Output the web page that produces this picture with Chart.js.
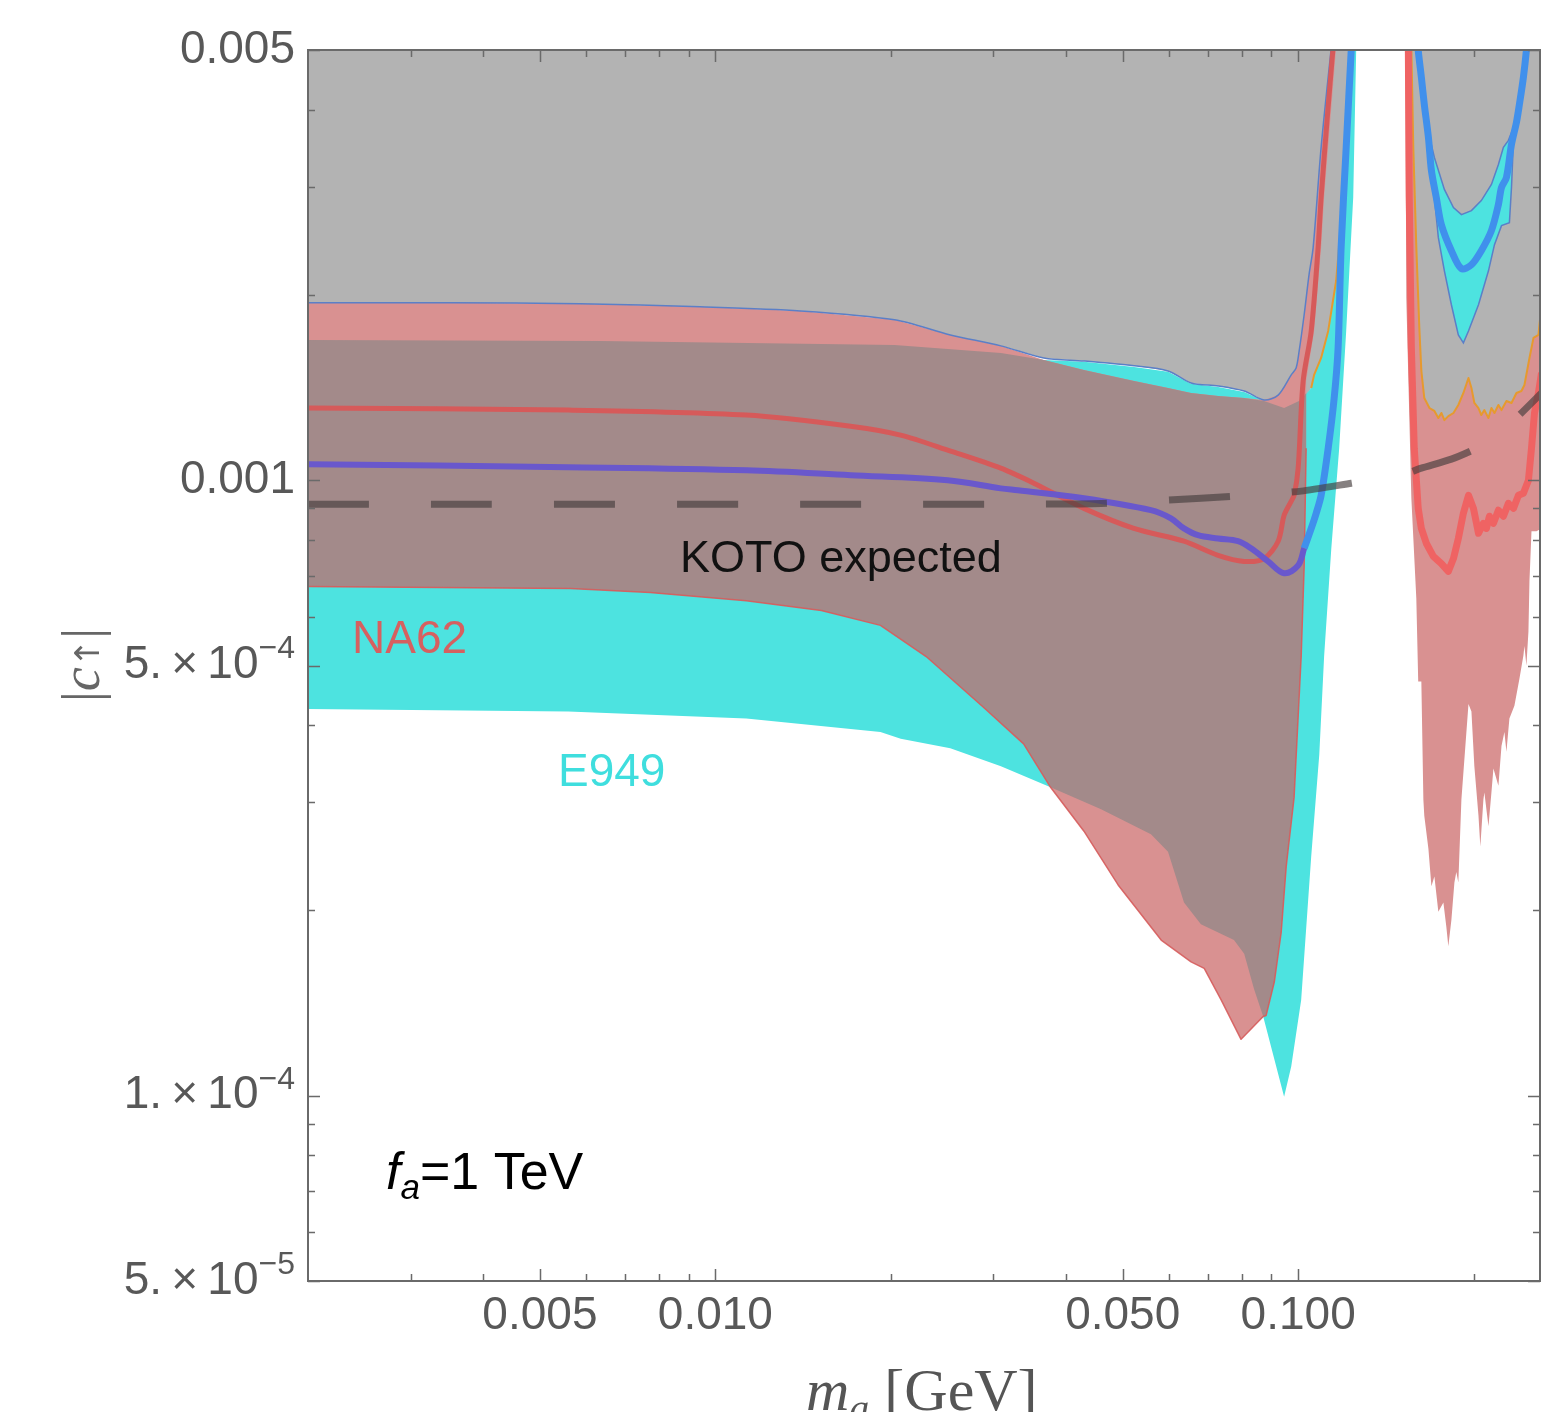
<!DOCTYPE html>
<html>
<head>
<meta charset="utf-8">
<script src="https://cdn.jsdelivr.net/npm/chart.js@4.4.0/dist/chart.umd.min.js"></script>
<style>
  html, body { margin: 0; padding: 0; background: #fff; }
  #wrap { width: 1560px; height: 1412px; }
</style>
</head>
<body>
<div id="wrap"><canvas id="chart"></canvas></div>
<script>
// axis ranges (m_a in GeV, |c| coupling)
const X_MIN = 0.002, X_MAX = 0.26;
const Y_MIN = 5e-5, Y_MAX = 5e-3;

// frame ticks and labels
const xMajor = [0.005, 0.01, 0.05, 0.1];
const xMinor = [0.003, 0.004, 0.006, 0.007, 0.008, 0.009, 0.02, 0.03, 0.04, 0.06, 0.07, 0.08, 0.09, 0.2];
const xLabels = ['0.005', '0.010', '0.050', '0.100'];
const yMajor = [0.005, 0.001, 5e-4, 1e-4, 5e-5];
const yMinor = [0.004, 0.003, 0.002, 9e-4, 8e-4, 7e-4, 6e-4, 4e-4, 3e-4, 2e-4, 9e-5, 8e-5, 7e-5, 6e-5];
const yLabelBase = ['0.005', '0.001', '5.\u2009×\u200910', '1.\u2009×\u200910', '5.\u2009×\u200910'];
const yLabelExp = ['', '', '−4', '−4', '−5'];

// gray excluded region (left of the K->pi pi gap)
const orangeLeft = [[0.1053,1.412e-3],[0.1065,1.483e-3],[0.1095,1.580e-3],[0.1126,1.748e-3],[0.1162,2.109e-3],
  [0.1195,2.879e-3],[0.1219,3.701e-3],[0.1234,5.015e-3],[0.1238,5.3e-3]];
const grayLeftLower = [[0.1012,1.335e-3],[0.0946,1.30e-3],[0.0874,1.35e-3],[0.0808,1.396e-3],[0.0729,1.423e-3],
  [0.0655,1.439e-3],[0.0598,1.505e-3],[0.0523,1.534e-3],[0.0429,1.562e-3],[0.0366,1.58e-3],[0.0309,1.653e-3],
  [0.0253,1.722e-3],[0.0203,1.822e-3],[0.0140,1.884e-3],[0.00942,1.913e-3],[0.00586,1.935e-3],[0.00351,1.942e-3],[0.00194,1.942e-3]];
const grayOutline = [[0.002,1.942e-3],[0.00351,1.942e-3],[0.00586,1.935e-3],[0.00942,1.913e-3],[0.0140,1.884e-3],
  [0.0203,1.822e-3],[0.0253,1.722e-3],[0.0309,1.653e-3],[0.0366,1.58e-3],[0.0429,1.562e-3],[0.0523,1.534e-3],
  [0.0598,1.505e-3],[0.0655,1.439e-3],[0.0729,1.423e-3],[0.0808,1.396e-3],[0.0874,1.35e-3],[0.0924,1.375e-3],
  [0.0973,1.483e-3],[0.0992,1.522e-3],[0.1004,1.622e-3],[0.1024,1.857e-3],[0.1044,2.158e-3],[0.1061,2.387e-3],
  [0.1095,3.473e-3],[0.1140,5.05e-3],[0.1148,5.3e-3]];

// E949 (cyan)
const e949Top = [[0.00194,1.690e-3],[0.00634,1.684e-3],[0.0203,1.659e-3],[0.0309,1.610e-3],[0.0366,1.568e-3],
  [0.0429,1.557e-3],[0.0523,1.528e-3],[0.0598,1.500e-3],[0.0655,1.434e-3],[0.0729,1.417e-3],[0.0808,1.391e-3],
  [0.0874,1.345e-3],[0.0946,1.310e-3],[0.1012,1.350e-3]];
const e949RightEdge = [[0.1263,5.3e-3],[0.1258,5.05e-3],[0.1243,2.879e-3],[0.1209,1.748e-3],[0.1176,1.127e-3],
  [0.1140,7.75e-4],[0.1108,5.17e-4],[0.1087,3.58e-4],[0.1053,2.45e-4],[0.1012,1.43e-4],[0.0973,1.115e-4],[0.0946,9.96e-5]];
const e949Lower = [[0.0871,1.345e-4],[0.0840,1.49e-4],[0.0808,1.70e-4],[0.0776,1.79e-4],[0.0681,1.90e-4],
  [0.0637,2.06e-4],[0.0598,2.49e-4],[0.0559,2.66e-4],[0.0459,2.92e-4],[0.0376,3.17e-4],[0.0309,3.43e-4],
  [0.0253,3.67e-4],[0.0208,3.80e-4],[0.0192,3.90e-4],[0.0113,4.10e-4],[0.00559,4.21e-4],[0.00194,4.25e-4]];

// NA62 (pink)
const na62Upper = [[0.00194,1.942e-3],[0.00351,1.942e-3],[0.00586,1.935e-3],[0.00942,1.913e-3],[0.0140,1.884e-3],
  [0.0203,1.822e-3],[0.0253,1.722e-3],[0.0309,1.653e-3],[0.0366,1.568e-3],[0.0429,1.511e-3],[0.0523,1.450e-3],
  [0.0598,1.412e-3],[0.0655,1.386e-3],[0.0729,1.370e-3],[0.0808,1.360e-3],[0.0874,1.350e-3],[0.0924,1.375e-3],
  [0.0973,1.483e-3],[0.0992,1.522e-3],[0.1004,1.622e-3],[0.1024,1.857e-3],[0.1044,2.158e-3],[0.1061,2.387e-3],
  [0.1095,3.473e-3],[0.1140,5.05e-3],[0.1144,5.3e-3]];
const na62RightEdge = [[0.1167,5.3e-3],[0.1162,5.05e-3],[0.1108,2.879e-3],[0.1095,2.387e-3],[0.1065,1.748e-3],[0.1032,1.450e-3]];
const na62Lower = [[0.1032,1.127e-3],[0.1024,7.24e-4],[0.1012,5.17e-4],[0.0984,3.05e-4],[0.0954,2.36e-4],
  [0.0935,1.84e-4],[0.0910,1.53e-4],[0.0881,1.35e-4],[0.0871,1.345e-4],[0.0798,1.235e-4],[0.0738,1.43e-4],
  [0.0690,1.61e-4],[0.0655,1.65e-4],[0.0582,1.79e-4],[0.0491,2.20e-4],[0.0429,2.69e-4],[0.0376,3.17e-4],
  [0.0338,3.73e-4],[0.0289,4.27e-4],[0.0230,5.17e-4],[0.0192,5.81e-4],[0.0152,6.14e-4],[0.0113,6.37e-4],
  [0.00773,6.57e-4],[0.00564,6.67e-4],[0.00194,6.72e-4]];

// overlap of NA62 and E949
const overlap = [[0.00194,1.690e-3],[0.00634,1.684e-3],[0.0203,1.659e-3],[0.0309,1.610e-3],[0.0366,1.568e-3],
  [0.0429,1.511e-3],[0.0523,1.450e-3],[0.0598,1.412e-3],[0.0655,1.386e-3],[0.0729,1.370e-3],[0.0808,1.360e-3],
  [0.0874,1.345e-3],[0.0946,1.310e-3],[0.1012,1.350e-3],[0.1032,1.386e-3],
  [0.1032,1.127e-3],[0.1024,7.24e-4],[0.1012,5.17e-4],[0.0984,3.05e-4],[0.0954,2.36e-4],[0.0935,1.84e-4],
  [0.0910,1.53e-4],[0.0881,1.35e-4],[0.0871,1.345e-4],[0.0840,1.49e-4],[0.0808,1.70e-4],[0.0776,1.79e-4],
  [0.0681,1.90e-4],[0.0637,2.06e-4],[0.0598,2.49e-4],[0.0559,2.66e-4],[0.0459,2.92e-4],[0.0376,3.17e-4],
  [0.0338,3.73e-4],[0.0289,4.27e-4],[0.0230,5.17e-4],[0.0192,5.81e-4],[0.0152,6.14e-4],[0.0113,6.37e-4],
  [0.00773,6.57e-4],[0.00564,6.67e-4],[0.00194,6.72e-4]];

// right of the gap
const orangeRight = [[0.1564,5.3e-3],[0.1564,5.05e-3],[0.1576,3.47e-3],[0.1595,2.39e-3],[0.1614,1.77e-3],[0.1627,1.505e-3],
  [0.1646,1.36e-3],[0.1680,1.31e-3],[0.1713,1.296e-3],[0.1740,1.262e-3],[0.1761,1.286e-3],[0.1782,1.252e-3],
  [0.1810,1.271e-3],[0.1847,1.286e-3],[0.1883,1.325e-3],[0.1921,1.386e-3],[0.1960,1.466e-3],[0.1983,1.412e-3],
  [0.2006,1.335e-3],[0.2039,1.310e-3],[0.2062,1.276e-3],[0.2087,1.300e-3],[0.2121,1.262e-3],[0.2146,1.310e-3],
  [0.2172,1.286e-3],[0.2206,1.325e-3],[0.2233,1.300e-3],[0.2277,1.345e-3],[0.2323,1.335e-3],[0.2369,1.386e-3],
  [0.2416,1.396e-3],[0.2445,1.428e-3],[0.2494,1.580e-3],[0.2534,1.703e-3],[0.2584,1.722e-3],[0.2616,1.928e-3],[0.2668,1.928e-3]];
const na62RightLower = [[0.2668,8.45e-4],[0.2564,8.26e-4],[0.2514,8.26e-4],[0.2494,6.85e-4],[0.2484,5.68e-4],
  [0.2464,5.00e-4],[0.2445,5.38e-4],[0.2435,5.19e-4],[0.2397,4.76e-4],[0.2350,4.30e-4],[0.2304,4.10e-4],
  [0.2277,3.62e-4],[0.2259,3.90e-4],[0.2233,3.70e-4],[0.2206,3.19e-4],[0.2163,3.40e-4],[0.2146,3.11e-4],
  [0.2121,2.74e-4],[0.2087,3.11e-4],[0.2079,3.03e-4],[0.2054,2.54e-4],[0.2039,2.85e-4],[0.2006,3.43e-4],
  [0.1983,4.21e-4],[0.1960,4.33e-4],[0.1944,3.90e-4],[0.1906,3.03e-4],[0.1883,2.22e-4],[0.1868,2.31e-4],
  [0.1854,2.22e-4],[0.1832,1.93e-4],[0.1810,1.75e-4],[0.1796,1.88e-4],[0.1775,2.06e-4],[0.1740,1.99e-4],
  [0.1713,2.27e-4],[0.1693,2.19e-4],[0.1673,2.52e-4],[0.1646,2.85e-4],[0.1640,3.03e-4],[0.1627,4.71e-4],
  [0.1607,4.71e-4],[0.1595,6.42e-4],[0.1564,9.35e-4],[0.1533,1.979e-3],[0.1527,5.3e-3]];
const e949U = [[0.1646,3.960e-3],[0.1673,3.473e-3],[0.1706,2.990e-3],[0.1740,2.478e-3],[0.1782,2.189e-3],
  [0.1832,1.928e-3],[0.1883,1.722e-3],[0.1921,1.672e-3],[0.1960,1.748e-3],[0.2039,1.928e-3],[0.2121,2.189e-3],
  [0.2172,2.414e-3],[0.2233,2.592e-3],[0.2304,2.621e-3],[0.2323,2.990e-3],[0.2341,3.566e-3],[0.2360,3.814e-3],
  [0.2295,3.566e-3],[0.2250,3.473e-3],[0.2206,3.258e-3],[0.2146,3.024e-3],[0.2062,2.847e-3],[0.1983,2.742e-3],
  [0.1906,2.701e-3],[0.1847,2.773e-3],[0.1782,2.968e-3],[0.1713,3.345e-3],[0.1673,3.673e-3],[0.1653,3.960e-3]];

// central curves
const redLeft = [[0.00200,1.310e-3],[0.00559,1.300e-3],[0.01131,1.276e-3],[0.01706,1.224e-3],[0.02079,1.184e-3],
  [0.02533,1.115e-3],[0.03088,1.046e-3],[0.03519,9.89e-4],[0.04289,9.00e-4],[0.05225,8.35e-4],[0.06369,7.96e-4],
  [0.07288,7.55e-4],[0.08076,7.38e-4],[0.08741,7.46e-4],[0.0924,7.96e-4],[0.09461,8.77e-4],[0.09727,9.24e-4],
  [0.09842,9.45e-4],[0.1000,1.046e-3],[0.1020,1.450e-3],[0.1053,1.748e-3],[0.1082,2.387e-3],[0.1095,2.879e-3],
  [0.1122,3.886e-3],[0.1148,5.05e-3],[0.1153,5.3e-3]];
const redRight = [[0.1545,5.3e-3],[0.1551,2.88e-3],[0.1564,1.64e-3],[0.1582,1.127e-3],[0.1607,9.00e-4],
  [0.1627,8.35e-4],[0.1659,7.90e-4],[0.1706,7.52e-4],[0.1761,7.32e-4],[0.1810,7.11e-4],[0.1847,7.46e-4],
  [0.1883,8.04e-4],[0.1921,8.84e-4],[0.1960,9.45e-4],[0.1999,9.00e-4],[0.2039,8.20e-4],[0.2079,8.51e-4],
  [0.2104,8.35e-4],[0.2129,8.74e-4],[0.2163,8.51e-4],[0.2206,8.94e-4],[0.2250,8.74e-4],[0.2295,9.17e-4],
  [0.2341,9.00e-4],[0.2388,9.45e-4],[0.2435,9.52e-4],[0.2484,1.000e-3],[0.2514,1.127e-3],[0.2544,1.286e-3],
  [0.2584,1.386e-3],[0.2616,1.494e-3]];
const purpleLine = [[0.00200,1.062e-3],[0.00559,1.050e-3],[0.01131,1.038e-3],[0.01706,1.019e-3],[0.02503,1.000e-3],
  [0.03088,9.70e-4],[0.03303,9.63e-4],[0.04289,9.35e-4],[0.05589,8.94e-4],[0.0605,8.67e-4],[0.06369,8.35e-4],
  [0.06732,8.14e-4],[0.07288,8.04e-4],[0.07886,7.96e-4],[0.08302,7.75e-4],[0.08881,7.38e-4],[0.09461,7.06e-4],
  [0.1000,7.27e-4],[0.1024,7.75e-4]];
const blueLeft = [[0.1024,7.75e-4],[0.1053,8.35e-4],[0.1074,8.84e-4],[0.1095,9.45e-4],[0.1126,1.127e-3],
  [0.1153,1.360e-3],[0.1171,1.641e-3],[0.1185,2.387e-3],[0.1209,3.473e-3],[0.1234,5.05e-3],[0.1238,5.3e-3]];
const blueU = [[0.1601,5.3e-3],[0.1607,4.996e-3],[0.1627,4.516e-3],[0.1646,4.081e-3],[0.1673,3.606e-3],
  [0.1693,3.186e-3],[0.1726,2.879e-3],[0.1761,2.601e-3],[0.1832,2.360e-3],[0.1906,2.206e-3],[0.1983,2.239e-3],
  [0.2062,2.360e-3],[0.2146,2.544e-3],[0.2206,2.804e-3],[0.2233,2.990e-3],[0.2277,3.104e-3],[0.2323,3.512e-3],
  [0.2369,3.814e-3],[0.2397,4.081e-3],[0.2435,4.516e-3],[0.2464,4.996e-3],[0.2475,5.3e-3]];
const kotoExpected = [[0.00200,9.14e-4],[0.0309,9.14e-4],[0.0459,9.17e-4],[0.0681,9.35e-4],[0.0830,9.45e-4],
  [0.1012,9.60e-4],[0.1234,9.89e-4],[0.1503,1.019e-3],[0.1627,1.046e-3],[0.1832,1.082e-3],[0.2022,1.127e-3],
  [0.2233,1.202e-3],[0.2416,1.286e-3],[0.2616,1.386e-3]];

// colours
const GRAY = '#b3b3b3', PINK = '#d99191', BROWN = '#a38a8a', CYAN = '#4de3e0';

function toPts(arr) {
  return arr.map(([m, c]) => ({x: m, y: c}));
}

function region(points, color, order, edge) {
  return {
    data: toPts(points), fill: 'shape', backgroundColor: color,
    borderColor: edge ? edge : 'rgba(0,0,0,0)', borderWidth: edge ? 1.5 : 0,
    pointRadius: 0, order: order, clip: 0
  };
}

function curve(points, color, width, order, dash, tension) {
  return {
    data: toPts(points), fill: false, borderColor: color, borderWidth: width,
    borderDash: dash || [], borderCapStyle: 'butt', borderJoinStyle: 'round',
    tension: tension || 0, pointRadius: 0, order: order, clip: 0
  };
}

const grayLeft = [[0.00194,5.3e-3],[0.1263,5.3e-3]].concat(orangeLeft.slice().reverse(), grayLeftLower);
const grayRight = [[0.1564,5.3e-3],[0.2668,5.3e-3]].concat(orangeRight.slice().reverse());
const e949Left = e949Top.concat(orangeLeft, e949RightEdge, e949Lower);
const na62Left = na62Upper.concat(na62RightEdge, na62Lower);
const na62Right = [[0.1527,5.3e-3]].concat(orangeRight, na62RightLower);
const na62Edge = na62Lower.slice().reverse();

const datasets = [
  region(grayLeft, GRAY, 30),
  region(grayRight, GRAY, 29),
  region(e949Left, CYAN, 28),
  region(na62Right, PINK, 27),
  region(e949U, CYAN, 26, '#5b7fc7'),
  region(na62Left, PINK, 25),
  region(overlap, BROWN, 24),
  curve(na62Edge, 'rgba(214,92,92,0.9)', 1.5, 23),
  curve(grayOutline, '#5b7fc7', 1.5, 22, null, 0.3),
  curve(orangeLeft, '#e69a2e', 2, 21),
  curve(orangeRight.slice(1, -1), '#e69a2e', 2, 21),
  curve(redLeft, '#d65a5a', 5, 20, null, 0.3),
  curve(redRight, '#ef6363', 7, 20),
  curve(purpleLine, '#6958cc', 6, 19, null, 0.35),
  curve(blueLeft, '#4090ec', 7, 19, null, 0.3),
  curve(blueU, '#4090ec', 7, 19, null, 0.3),
  curve(kotoExpected, 'rgba(70,62,62,0.66)', 7, 18, [61, 62], 0.2)
];

// frame, inward ticks, tick labels and text annotations
const overlay = {
  id: 'overlay',
  afterDraw(chart) {
    const {ctx, chartArea: a, scales: {x, y}} = chart;
    ctx.save();
    ctx.strokeStyle = '#6a6a6a';
    ctx.lineWidth = 2;
    ctx.strokeRect(a.left, a.top, a.right - a.left, a.bottom - a.top);

    ctx.lineWidth = 1.5;
    ctx.beginPath();
    const xTick = (v, len) => {
      const p = Math.round(x.getPixelForValue(v)) + 0.5;
      ctx.moveTo(p, a.bottom); ctx.lineTo(p, a.bottom - len);
      ctx.moveTo(p, a.top); ctx.lineTo(p, a.top + len);
    };
    const yTick = (v, len) => {
      const p = Math.round(y.getPixelForValue(v)) + 0.5;
      ctx.moveTo(a.left, p); ctx.lineTo(a.left + len, p);
      ctx.moveTo(a.right, p); ctx.lineTo(a.right - len, p);
    };
    xMajor.forEach(v => xTick(v, 12));
    xMinor.forEach(v => xTick(v, 7));
    yMajor.forEach(v => yTick(v, 12));
    yMinor.forEach(v => yTick(v, 7));
    ctx.stroke();

    const SANS = '"Liberation Sans", Arial, sans-serif';
    const SERIF = '"Liberation Serif", "Times New Roman", serif';
    ctx.fillStyle = '#585858';
    ctx.textBaseline = 'middle';

    // x tick labels
    ctx.font = '46px ' + SANS;
    ctx.textAlign = 'center';
    xMajor.forEach((v, i) => ctx.fillText(xLabels[i], x.getPixelForValue(v), 1316));

    // y tick labels with superscript exponents
    ctx.textAlign = 'left';
    yMajor.forEach((v, i) => {
      const py = y.getPixelForValue(v);
      ctx.font = '46px ' + SANS;
      const wb = ctx.measureText(yLabelBase[i]).width;
      ctx.font = '32px ' + SANS;
      const we = yLabelExp[i] ? ctx.measureText(yLabelExp[i]).width : 0;
      const x0 = a.left - 13 - wb - we;
      ctx.font = '46px ' + SANS;
      ctx.fillText(yLabelBase[i], x0, py);
      if (yLabelExp[i]) {
        ctx.font = '32px ' + SANS;
        ctx.fillText(yLabelExp[i], x0 + wb, py - 16);
      }
    });

    // x axis title: m_a [GeV]
    ctx.textBaseline = 'alphabetic';
    ctx.fillStyle = '#555';
    let tx = 806;
    ctx.font = 'italic 60px ' + SERIF;
    ctx.fillText('m', tx, 1410);
    tx += ctx.measureText('m').width;
    ctx.font = 'italic 40px ' + SERIF;
    ctx.fillText('a', tx, 1422);
    tx += ctx.measureText('a').width;
    ctx.font = '60px ' + SERIF;
    ctx.fillText(' [GeV]', tx, 1410);

    // y axis title: |c↑| rotated
    ctx.save();
    ctx.translate(99, 665);
    ctx.rotate(-Math.PI / 2);
    ctx.fillStyle = '#666';
    const parts = [['|', '54px ' + SERIF], ['c', 'italic 54px ' + SERIF], ['↑', '34px "DejaVu Sans", sans-serif'], ['|', '54px ' + SERIF]];
    let total = 0;
    parts.forEach(([t, f]) => { ctx.font = f; total += ctx.measureText(t).width; });
    let ox = -total / 2;
    parts.forEach(([t, f]) => {
      ctx.font = f;
      ctx.fillText(t, ox, 0);
      ox += ctx.measureText(t).width;
    });
    ctx.restore();

    // annotations
    ctx.font = '45px ' + SANS;
    ctx.fillStyle = '#111';
    ctx.fillText('KOTO expected', 680, 572);
    ctx.font = '46px ' + SANS;
    ctx.fillStyle = '#d66060';
    ctx.fillText('NA62', 352, 653);
    ctx.fillStyle = '#3fdede';
    ctx.fillText('E949', 558, 786);

    ctx.fillStyle = '#000';
    let fx = 386;
    ctx.font = 'italic 52px ' + SANS;
    ctx.fillText('f', fx, 1189);
    fx += ctx.measureText('f').width;
    ctx.font = 'italic 35px ' + SANS;
    ctx.fillText('a', fx, 1199);
    fx += ctx.measureText('a').width;
    ctx.font = '52px ' + SANS;
    ctx.fillText('=1 TeV', fx, 1189);
    ctx.restore();
  }
};

new Chart(document.getElementById('chart'), {
  type: 'line',
  data: { datasets: datasets },
  options: {
    responsive: true,
    maintainAspectRatio: false,
    animation: false,
    layout: { padding: { top: 50, right: 20, left: 0, bottom: 0 } },
    plugins: { legend: { display: false }, tooltip: { enabled: false } },
    elements: { point: { radius: 0 } },
    scales: {
      x: {
        type: 'logarithmic', min: X_MIN, max: X_MAX,
        grid: { display: false }, border: { display: false }, ticks: { display: false },
        afterFit(s) { s.height = 131; }
      },
      y: {
        type: 'logarithmic', min: Y_MIN, max: Y_MAX,
        grid: { display: false }, border: { display: false }, ticks: { display: false },
        afterFit(s) { s.width = 308; }
      }
    }
  },
  plugins: [overlay]
});
</script>
</body>
</html>
